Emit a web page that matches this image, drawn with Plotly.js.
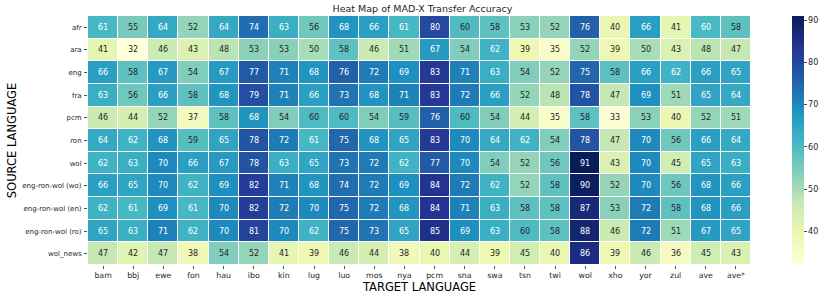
<!DOCTYPE html>
<html>
<head>
<meta charset="utf-8">
<script src="https://cdn.plot.ly/plotly-3.0.1.min.js"></script>
<style>html,body{margin:0;padding:0;background:#fff;}#chart{width:830px;height:298px;}</style>
</head>
<body>
<div id="chart"></div>
<script>
const targetLanguages = ["bam","bbj","ewe","fon","hau","ibo","kin","lug","luo","mos","nya","pcm","sna","swa","tsn","twi","wol","xho","yor","zul","ave","ave*"];
const sourceLanguages = ["afr","ara","eng","fra","pcm","ron","wol","eng-ron-wol (wo)","eng-ron-wol (en)","eng-ron-wol (ro)","wol_news"];

const afr   = [61,55,64,52,64,74,63,56,68,66,61,80,59.7,58,53,52,76,40,66,41,60.4,58];
const ara   = [41,32,46,43,48,53,53,50,58,46,51,67,54,62,39,35,52,39,50,43,48,47];
const eng   = [66,58,67,54,67,77,71,68,76,72,69,83,71,63,54,52,75,58,66,62,66,65];
const fra   = [63,56,66,58,68,79,71,66,73,68,71,83,72,66,52,48,78,47,69,51,65,64];
const pcm   = [46,44,52,37,58,68,54,60,60,54,59,76,60,54,44,35,58,33,53,40,52,51];
const ron   = [64,62,68,59,65,78,72,61,75,68,65,83,70,64,62,54,78,47,70,56,66,64];
const wol   = [62,63,70,66,67,78,63,65,73,72,62,77,70,54,52,56,91,43,70,45,65,63];
const erwWo = [66,65,70,62,69,82,71,68,74,72,69,84,72,62,52,58,90,52,70,56,68,66];
const erwEn = [62,61,69,61,70,82,72,70,75,72,68,84,71,63,58,58,87,53,72,58,68,66];
const erwRo = [65,63,71,62,70,81,70,62,75,73,65,85,69,63,60,58,88,46,72,51,67,65];
const wolNews = [47,42,47,38,54,52,41,39,46,44,38,40,44,39,45,40,86,39,46,36,45,43];

const z = [afr, ara, eng, fra, pcm, ron, wol, erwWo, erwEn, erwRo, wolNews];

const ylgnbu = [
  [0.0,'#ffffd9'],[0.125,'#edf8b1'],[0.25,'#c7e9b4'],[0.375,'#7fcdbb'],
  [0.5,'#41b6c4'],[0.625,'#1d91c0'],[0.75,'#225ea8'],[0.875,'#253494'],[1.0,'#081d58']
];

const FONT = 'DejaVu Sans, sans-serif';
const DARK = '#262626';

const annotations = [];
z.forEach((row, i) => {
  row.forEach((v, j) => {
    annotations.push({
      x: targetLanguages[j], y: sourceLanguages[i], xref: 'x', yref: 'y',
      text: String(Math.round(v)), showarrow: false,
      font: {family: FONT, size: 8, color: v > 60.2 ? '#ffffff' : DARK}
    });
  });
});

const trace = {
  type: 'heatmap',
  x: targetLanguages, y: sourceLanguages, z: z,
  colorscale: ylgnbu, zmin: 32, zmax: 91,
  xgap: 1, ygap: 1, hoverinfo: 'none',
  colorbar: {
    x: 1.0614, xanchor: 'left', xpad: 0, ypad: 0,
    y: 0.5, yanchor: 'middle', len: 1, lenmode: 'fraction',
    thickness: 12, outlinewidth: 0,
    tickvals: [40,50,60,70,80,90], ticks: 'outside', ticklen: 3, tickwidth: 0.8, tickcolor: DARK,
    tickfont: {family: FONT, size: 8, color: DARK}
  }
};

const layout = {
  width: 830, height: 298,
  margin: {l: 88, r: 74, t: 16, b: 33, pad: 0},
  paper_bgcolor: '#ffffff', plot_bgcolor: '#ffffff',
  font: {family: FONT, color: DARK},
  title: {text: 'Heat Map of MAD-X Transfer Accuracy', font: {family: FONT, size: 9.5, color: DARK},
          x: 0.509, xanchor: 'center', y: 0.972, yanchor: 'middle', yref: 'container'},
  xaxis: {
    type: 'category', ticks: 'outside', ticklen: 3, tickwidth: 0.8, tickcolor: DARK,
    tickfont: {family: FONT, size: 7.8, color: DARK}, showgrid: false, zeroline: false, showline: false,
    title: {text: 'TARGET LANGUAGE', font: {family: FONT, size: 11.5, color: '#000'}, standoff: 2},
    automargin: false
  },
  yaxis: {
    type: 'category', autorange: 'reversed', ticks: 'outside', ticklen: 3, tickwidth: 0.8, tickcolor: DARK,
    ticklabelstandoff: 1,
    tickfont: {family: FONT, size: 7, color: DARK}, showgrid: false, zeroline: false, showline: false,
    title: {text: 'SOURCE LANGUAGE', font: {family: FONT, size: 11.5, color: '#000'}, standoff: 3},
    automargin: true
  },
  annotations: annotations
};

Plotly.newPlot('chart', [trace], layout, {displayModeBar: false, staticPlot: true});
</script>
</body>
</html>
